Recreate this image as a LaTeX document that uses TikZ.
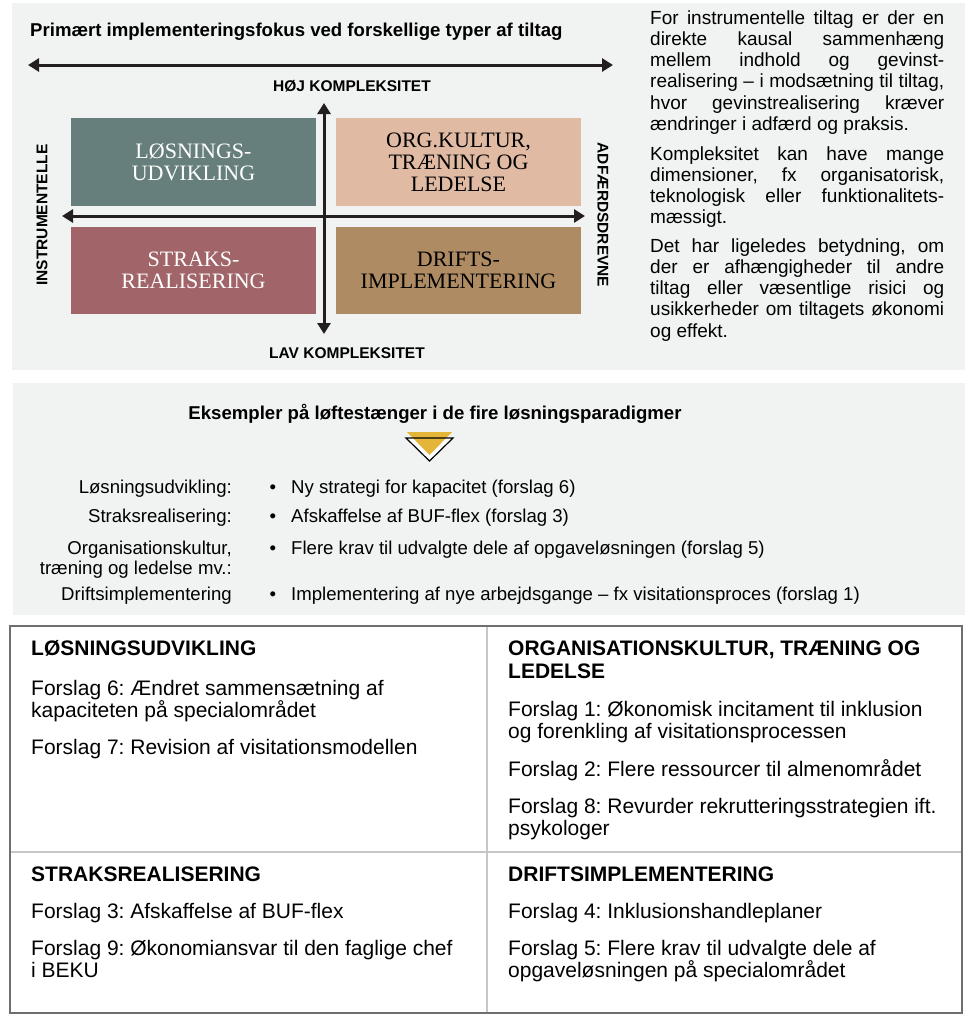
\documentclass[tikz,border=0pt]{standalone}
\usepackage{fontspec}
\setmainfont{Liberation Sans}
\newfontfamily\serifbox{Liberation Serif}
\usetikzlibrary{arrows.meta}
\definecolor{panel}{HTML}{F1F2F2}
\definecolor{qteal}{HTML}{677F7C}
\definecolor{qpeach}{HTML}{E1BAA4}
\definecolor{qred}{HTML}{A16569}
\definecolor{qbrown}{HTML}{AE8B62}
\definecolor{axis}{HTML}{231F20}
\definecolor{tri}{HTML}{E5B53A}
\definecolor{tborder}{HTML}{6E6E6E}
\definecolor{tinner}{HTML}{C6C6C6}
\newcommand{\jl}[1]{\makebox[294pt][s]{#1}}
\frenchspacing
\begin{document}
\begin{tikzpicture}[x=1pt,y=-1pt,
  ax/.style={line width=3pt, draw=axis, {Triangle[length=11pt,width=13pt]}-{Triangle[length=11pt,width=13pt]}},
  quad/.style={minimum width=245pt, minimum height=88pt, inner sep=0pt, align=center, font=\serifbox\fontsize{22}{22}\selectfont},
  lbl/.style={font=\bfseries\fontsize{15.5}{18}\selectfont, inner sep=0pt},
  ptxt/.style={font=\fontsize{19}{21.3}\selectfont, inner sep=0pt, anchor=base west},
  ttxt/.style={font=\fontsize{21}{23}\selectfont, inner sep=0pt, anchor=base west},
  thead/.style={ttxt, font=\bfseries\fontsize{21}{23}\selectfont},
  ltxt/.style={font=\fontsize{18.6}{21}\selectfont, inner sep=0pt},
  bigtitle/.style={font=\bfseries\fontsize{18.6}{22}\selectfont, inner sep=0pt}
]
\useasboundingbox (0,0) rectangle (968,1015);
\fill[white] (0,0) rectangle (968,1015);
% panels
\fill[panel] (12,3) rectangle (965,370);
\fill[panel] (13,383) rectangle (965,615);

% top title and arrow
\node[bigtitle, anchor=base west] (title) at (30,36) {Primært implementeringsfokus ved forskellige typer af tiltag};
\coordinate (tL) at (28,65);
\coordinate (tR) at (613,65);
\draw[ax] (tL) -- (tR);

% quadrants
\node[quad, fill=qteal, text=white] (q1) at (193.5,162) {LØSNINGS-\\UDVIKLING};
\node[quad, fill=qpeach, text=black] (q2) at (458.5,162) {ORG.KULTUR,\\TRÆNING OG\\LEDELSE};
\node[quad, fill=qred, text=white, minimum height=87pt] (q3) at (193.5,270.5) {STRAKS-\\REALISERING};
\node[quad, fill=qbrown, text=black, minimum height=87pt] (q4) at (458.5,270.5) {DRIFTS-\\IMPLEMENTERING};

% axes
\coordinate (vT) at (324,103);
\coordinate (vB) at (324,334);
\coordinate (hL) at (62,216);
\coordinate (hR) at (585,216);
\draw[ax] (vT) -- (vB);
\draw[ax] (hL) -- (hR);

\node[lbl] (hoj) at (352,86) {HØJ KOMPLEKSITET};
\node[lbl] (lav) at (347,353) {LAV KOMPLEKSITET};
\node[lbl, rotate=90] (instr) at (42,215) {INSTRUMENTELLE};
\node[lbl, rotate=-90] (adf) at (603,215) {ADFÆRDSDREVNE};

% right text
\node[ptxt] (p1a) at (650,24) {\jl{For instrumentelle tiltag er der en}};
\node[ptxt] (p1b) at (650,45.3) {\jl{direkte kausal sammenhæng}};
\node[ptxt] (p1c) at (650,66.6) {\jl{mellem indhold og gevinst-}};
\node[ptxt] (p1d) at (650,87.9) {\jl{realisering – i modsætning til tiltag,}};
\node[ptxt] (p1e) at (650,109.2) {\jl{hvor gevinstrealisering kræver}};
\node[ptxt] (p1f) at (650,130.5) {ændringer i adfærd og praksis.};
\node[ptxt] (p2a) at (650,160) {\jl{Kompleksitet kan have mange}};
\node[ptxt] (p2b) at (650,181.3) {\jl{dimensioner, fx organisatorisk,}};
\node[ptxt] (p2c) at (650,202.6) {\jl{teknologisk eller funktionalitets-}};
\node[ptxt] (p2d) at (650,223.9) {mæssigt.};
\node[ptxt] (p3a) at (650,252) {\jl{Det har ligeledes betydning, om}};
\node[ptxt] (p3b) at (650,273.3) {\jl{der er afhængigheder til andre}};
\node[ptxt] (p3c) at (650,294.6) {\jl{tiltag eller væsentlige risici og}};
\node[ptxt] (p3d) at (650,315.9) {\jl{usikkerheder om tiltagets økonomi}};
\node[ptxt] (p3e) at (650,337.2) {og effekt.};

% middle section
\node[bigtitle, anchor=base] (title2) at (435,419) {Eksempler på løftestænger i de fire løsningsparadigmer};
\fill[white] (406,438) -- (453,438) -- (429.5,461) -- cycle;
\fill[tri] (407,432) -- (452,432) -- (429.5,455) -- cycle;
\draw[black, line width=1.2pt, line join=miter] (406,438) -- (453,438) -- (429.5,461) -- cycle;

\node[ltxt, anchor=base east] (l1) at (232,493) {Løsningsudvikling:};
\node[ltxt, anchor=base east] (l2) at (232,522) {Straksrealisering:};
\node[ltxt, anchor=base east] (l3a) at (232,554) {Organisationskultur,};
\node[ltxt, anchor=base east] (l3b) at (232,574) {træning og ledelse mv.:};
\node[ltxt, anchor=base east] (l4) at (232,600) {Driftsimplementering};
\node[ltxt, anchor=base] (b1) at (273,493) {•};
\node[ltxt, anchor=base] (b2) at (273,522) {•};
\node[ltxt, anchor=base] (b3) at (273,554) {•};
\node[ltxt, anchor=base] (b4) at (273,600) {•};
\node[ltxt, anchor=base west] (e1) at (291,493) {Ny strategi for kapacitet (forslag 6)};
\node[ltxt, anchor=base west] (e2) at (291,522) {Afskaffelse af BUF-flex (forslag 3)};
\node[ltxt, anchor=base west] (e3) at (291,554) {Flere krav til udvalgte dele af opgaveløsningen (forslag 5)};
\node[ltxt, anchor=base west] (e4) at (291,600) {Implementering af nye arbejdsgange – fx visitationsproces (forslag 1)};

% table
\draw[tinner, line width=2pt] (487,626) -- (487,1013);
\draw[tinner, line width=2pt] (10,852) -- (962,852);
\draw[tborder, line width=1.3pt] (10,626) rectangle (962,1013);

\node[thead] (h1) at (31,655) {LØSNINGSUDVIKLING};
\node[ttxt] (t6a) at (31,695) {Forslag 6: Ændret sammensætning af};
\node[ttxt] (t6b) at (31,717) {kapaciteten på specialområdet};
\node[ttxt] (t7) at (31,754) {Forslag 7: Revision af visitationsmodellen};

\node[thead] (h2a) at (508,655) {ORGANISATIONSKULTUR, TRÆNING OG};
\node[thead] (h2b) at (508,678) {LEDELSE};
\node[ttxt] (t1a) at (508,716) {Forslag 1: Økonomisk incitament til inklusion};
\node[ttxt] (t1b) at (508,738) {og forenkling af visitationsprocessen};
\node[ttxt] (t2) at (508,776) {Forslag 2: Flere ressourcer til almenområdet};
\node[ttxt] (t8a) at (508,813) {Forslag 8: Revurder rekrutteringsstrategien ift.};
\node[ttxt] (t8b) at (508,835) {psykologer};

\node[thead] (h3) at (31,881) {STRAKSREALISERING};
\node[ttxt] (t3) at (31,918) {Forslag 3: Afskaffelse af BUF-flex};
\node[ttxt] (t9a) at (31,955) {Forslag 9: Økonomiansvar til den faglige chef};
\node[ttxt] (t9b) at (31,977) {i BEKU};

\node[thead] (h4) at (508,881) {DRIFTSIMPLEMENTERING};
\node[ttxt] (t4) at (508,918) {Forslag 4: Inklusionshandleplaner};
\node[ttxt] (t5a) at (508,955) {Forslag 5: Flere krav til udvalgte dele af};
\node[ttxt] (t5b) at (508,977) {opgaveløsningen på specialområdet};
\end{tikzpicture}
\end{document}
